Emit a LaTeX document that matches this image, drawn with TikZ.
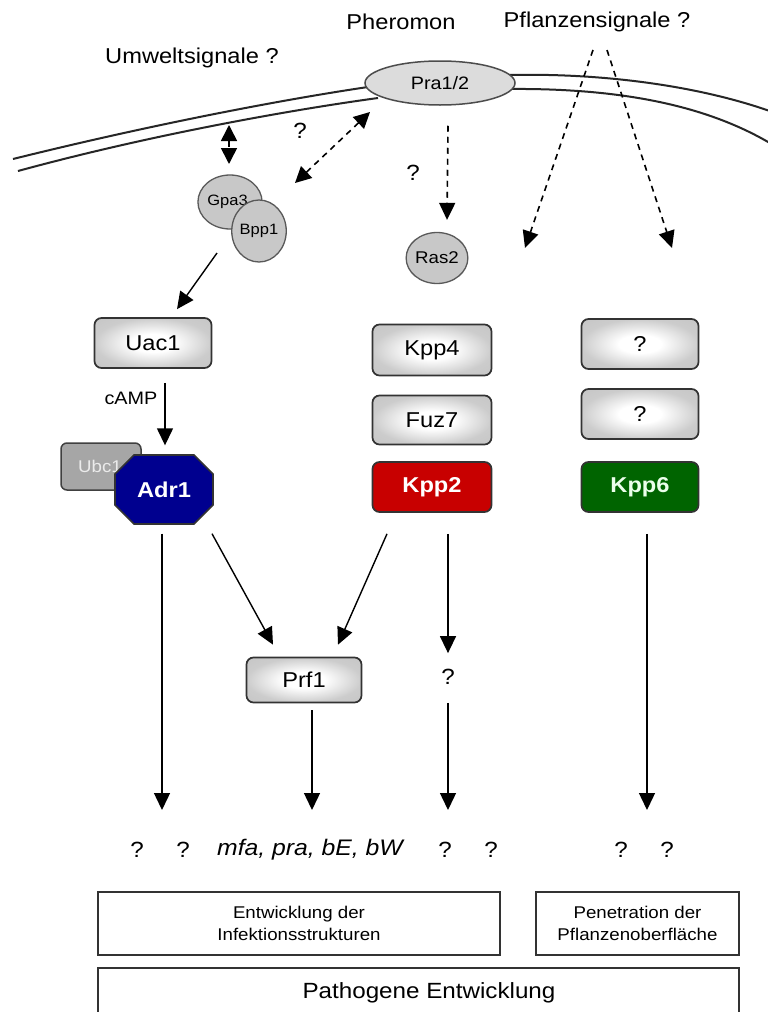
\documentclass[tikz,border=0pt]{standalone}
\usepackage{fontspec}
\setmainfont{Liberation Sans}[FakeStretch=1.1]
\usetikzlibrary{arrows.meta,shapes.geometric}
\definecolor{boxedge}{HTML}{333333}
\definecolor{protfill}{HTML}{C8C8C8}
\definecolor{prafill}{HTML}{DCDCDC}
\definecolor{adrblue}{HTML}{00008F}
\definecolor{kppred}{HTML}{C80000}
\definecolor{kppgreen}{HTML}{006400}
\definecolor{ubcgray}{HTML}{A6A6A6}
\pgfdeclareradialshading{boxshade}{\pgfpoint{0bp}{0bp}}{%
  color(0bp)=(white); color(9bp)=(white); color(25bp)=(black!20); color(50bp)=(black!26)}
\begin{document}
\begin{tikzpicture}[x=1pt,y=-1pt,
  title/.style={font=\fontsize{21.5}{24}\selectfont, inner sep=0pt},
  qm/.style={font=\fontsize{21}{24}\selectfont, inner sep=0pt},
  gbox/.style={rectangle, rounded corners=7pt, draw=boxedge, line width=1.7pt,
    shading=boxshade, minimum width=117pt, minimum height=50pt,
    font=\fontsize{21.5}{24}\selectfont},
  cbox/.style={rectangle, rounded corners=7pt, draw=boxedge, line width=1.7pt,
    minimum width=119pt, minimum height=50pt, text=white, font=\bfseries\fontsize{21.5}{24}\selectfont},
  prot/.style={ellipse, draw=black!65, line width=1.3pt, fill=protfill, inner sep=0pt},
  outbox/.style={rectangle, draw=boxedge, line width=1.6pt, align=center},
  membrane/.style={line width=2pt, black!85},
  arr/.style={line width=1.4pt, -{Triangle[length=17pt,width=16pt]}},
  darr/.style={line width=1.6pt, dash pattern=on 6pt off 5pt, -{Triangle[length=17pt,width=16pt]}},
  ddarr/.style={line width=1.6pt, dash pattern=on 6pt off 5pt,
    {Triangle[length=16pt,width=16pt]}-{Triangle[length=16pt,width=16pt]}}
]
\clip (0,0) rectangle (768,1012);
\fill[white] (0,0) rectangle (768,1012);

% membrane
\draw[membrane] (13,159) .. controls (150,125) and (280,100) .. (368,87);
\draw[membrane] (18,171) .. controls (150,135) and (290,110) .. (378,98);
\draw[membrane] (510,75) .. controls (600,73) and (700,85) .. (778,114);
\draw[membrane] (508,89) .. controls (620,88) and (710,105) .. (778,148);

% titles
\node[title] (pher) at (401,22) {Pheromon};
\node[title] (pfl) at (597,22) {Pflanzensignale ?};
\node[title] (umw) at (192,58) {Umweltsignale ?};

% receptor
\node[ellipse, draw=black!70, line width=1.5pt, fill=prafill, minimum width=150pt,
  minimum height=44pt, font=\fontsize{18}{20}\selectfont] (pra) at (440,83) {Pra1/2};

% G proteins and Ras
\node[prot, minimum width=56pt, minimum height=54pt, font=\fontsize{15}{17}\selectfont,
  text depth=0pt] (gpa) at (230,202) {\raisebox{4pt}{Gpa3\hspace{5pt}}};
\node[prot, minimum width=44pt, minimum height=62pt, font=\fontsize{15}{17}\selectfont] (bpp) at (259,231) {Bpp1};
\node[prot, minimum width=59pt, minimum height=51pt, font=\fontsize{17}{19}\selectfont] (ras) at (437,258) {Ras2};

% question marks near membrane
\node[qm, font=\fontsize{22}{25}\selectfont] (qa) at (300,131) {?};
\node[qm, font=\fontsize{22}{25}\selectfont] (qb) at (413,173) {?};

% dashed signals
\coordinate (lvtop) at (229,125);
\coordinate (lvbot) at (229,164);
\draw[ddarr] (lvtop) -- (lvbot);
\coordinate (dgtop) at (370,112);
\coordinate (dgbot) at (295,183);
\draw[ddarr] (dgtop) -- (dgbot);
\draw[darr] ([xshift=8pt,yshift=-20pt]pra.south) -- ([xshift=10pt,yshift=12pt]ras.north);
\coordinate (pfl1) at (593,50);
\coordinate (pfl2) at (607,50);
\coordinate (pflt1) at (525,248);
\coordinate (pflt2) at (672,248);
\draw[darr] (pfl1) -- (pflt1);
\draw[darr] (pfl2) -- (pflt2);

% boxes
\node[gbox] (uac) at (153,343) {Uac1};
\node[gbox, minimum width=119pt, minimum height=51pt] (kpp4) at (432,350) {Kpp4};
\node[gbox, minimum width=119pt, minimum height=49pt] (fuz7) at (432,420) {Fuz7};
\node[cbox, fill=kppred] (kpp2) at (432,487) {Kpp2};
\node[gbox] (qx1) at (640,344) {?};
\node[gbox] (qx2) at (640,414) {?};
\node[cbox, fill=kppgreen, minimum width=117pt, text=green!8] (kpp6) at (640,487) {Kpp6};

% Gpa3/Bpp1 -> Uac1
\coordinate (gbout) at (217,253);
\draw[arr] (gbout) -- ([xshift=24pt,yshift=8pt]uac.north);

% cAMP
\node[font=\fontsize{18}{21}\selectfont, inner sep=0pt] (camp) at (131,398) {cAMP};

% Ubc1 and Adr1
\node[rectangle, rounded corners=6pt, draw=black!75, line width=1.5pt, fill=ubcgray,
  minimum width=80pt, minimum height=47pt, text=black!8,
  font=\fontsize{17}{20}\selectfont] (ubc) at (101,466.5) {\hspace{-2pt}Ubc1};
\fill[adrblue, draw=boxedge, line width=1.6pt]
  (115,474) -- (134,455) -- (194,455) -- (213,474) -- (213,505) -- (194,524)
  -- (134,524) -- (115,505) -- cycle;
\node[minimum width=98pt, minimum height=69pt, text=white,
  font=\bfseries\fontsize{21.5}{24}\selectfont] (adr) at (164,490) {Adr1};

\draw[arr] ([xshift=12pt,yshift=-14pt]uac.south) -- ([xshift=1pt,yshift=10pt]adr.north);

% Prf1
\node[gbox, minimum width=115pt, minimum height=45pt] (prf) at (304,680) {Prf1};
\node[qm, font=\fontsize{22}{25}\selectfont] (qk) at (448,677) {?};

% bottom row
\node[qm, font=\fontsize{22}{25}\selectfont] (b1) at (137,850) {?};
\node[qm, font=\fontsize{22}{25}\selectfont] (b2) at (183,850) {?};
\node[inner sep=0pt, font=\itshape\fontsize{22.5}{26}\selectfont] (genes) at (310,850) {mfa, pra, bE, bW};
\node[qm, font=\fontsize{22}{25}\selectfont] (b3) at (445,850) {?};
\node[qm, font=\fontsize{22}{25}\selectfont] (b4) at (491,850) {?};
\node[qm, font=\fontsize{22}{25}\selectfont] (b5) at (621,850) {?};
\node[qm, font=\fontsize{22}{25}\selectfont] (b6) at (667,850) {?};

% arrows in lower part
\coordinate (t1) at (162,810);
\coordinate (t2) at (312,810);
\coordinate (t3) at (448,810);
\coordinate (t4) at (647,810);
\draw[arr] ([xshift=-2pt,yshift=-9pt]adr.south) -- (t1);
\draw[arr] ([xshift=48pt,yshift=-9pt]adr.south) -- ([xshift=-31pt,yshift=12pt]prf.north);
\draw[arr] ([xshift=-45pt,yshift=-21pt]kpp2.south) -- ([xshift=34pt,yshift=12pt]prf.north);
\draw[arr] ([xshift=16pt,yshift=-21pt]kpp2.south) -- ([yshift=16pt]qk.north);
\draw[arr] ([yshift=-18pt]qk.south) -- (t3);
\draw[arr] ([xshift=8pt,yshift=-7pt]prf.south) -- (t2);
\draw[arr] ([xshift=7pt,yshift=-21pt]kpp6.south) -- (t4);

% outcome boxes
\node[outbox, minimum width=402pt, minimum height=63pt, font=\fontsize{17}{22}\selectfont]
  (ent) at (299,923.5) {Entwicklung der\\Infektionsstrukturen};
\node[outbox, minimum width=203pt, minimum height=63pt, font=\fontsize{17}{22}\selectfont]
  (pen) at (637.5,923.5) {Penetration der\\Pflanzenoberfläche};
\node[inner sep=0pt, font=\fontsize{22}{26}\selectfont] (path) at (429,993) {Pathogene Entwicklung};
\draw[boxedge, line width=1.6pt] (98,1030) -- (98,968) -- (739,968) -- (739,1030);
\end{tikzpicture}
\end{document}
